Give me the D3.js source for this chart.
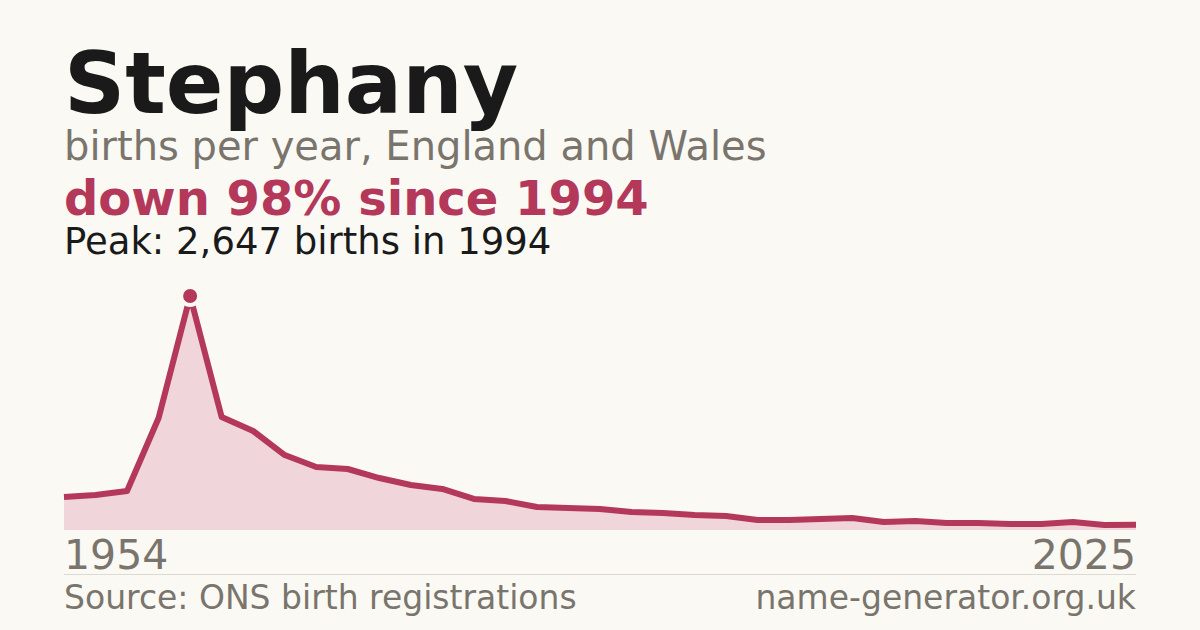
<!DOCTYPE html>
<html>
<head>
<meta charset="utf-8">
<script src="https://cdn.jsdelivr.net/npm/d3@7"></script>
<style>
  html, body { margin: 0; padding: 0; background: #faf9f4; }
  svg { display: block; font-family: "DejaVu Sans", sans-serif; }
</style>
</head>
<body>
<svg id="chart" width="1200" height="630"></svg>
<script>
// births per year for the name
var years = [1990, 1991, 1992, 1993, 1994, 1995, 1996, 1997, 1998, 1999,
    2000, 2001, 2002, 2003, 2004, 2005, 2006, 2007, 2008, 2009,
    2010, 2011, 2012, 2013, 2014, 2015, 2016, 2017, 2018, 2019,
    2020, 2021, 2022, 2023, 2024];
var births = [373, 396, 441, 1267, 2647, 1278, 1120, 848, 713, 690,
    588, 509, 464, 351, 328, 260, 249, 238, 204, 192,
    170, 158, 113, 113, 124, 136, 90, 102, 79, 79,
    68, 68, 90, 57, 60];
var endLabels = ["1954", "2025"];

var peakYear = 1994, peakValue = 2647;

var titleText = "Stephany";
var subtitleText = "births per year, England and Wales";
var changeText = "down 98% since 1994";
var peakText = "Peak: 2,647 births in 1994";
var sourceText = "Source: ONS birth registrations";
var siteText = "name-generator.org.uk";

var lineColor = "#b3385a",
    areaColor = "#f0d5da",
    bg = "#faf9f4",
    grey = "#7a756c";

var svg = d3.select("#chart");
svg.append("rect").attr("width", 1200).attr("height", 630).attr("fill", bg);

var margin = { left: 64, right: 64 },
    plotTop = 296, plotBottom = 530;

var data = years.map(function(y, i) { return { year: y, value: births[i] }; });

var x = d3.scaleLinear()
    .domain(d3.extent(years))
    .range([margin.left, 1200 - margin.right]);
var y = d3.scaleLinear()
    .domain([0, d3.max(births)])
    .range([plotBottom, plotTop]);

// header texts
svg.append("text").attr("x", 64).attr("y", 113)
    .attr("font-size", 85).attr("font-weight", "bold").attr("fill", "#1a1a1a")
    .text(titleText);
svg.append("text").attr("x", 64).attr("y", 160)
    .attr("font-size", 40).attr("fill", grey)
    .text(subtitleText);
svg.append("text").attr("x", 64).attr("y", 215)
    .attr("font-size", 48).attr("font-weight", "bold").attr("fill", lineColor)
    .text(changeText);
svg.append("text").attr("x", 64).attr("y", 254)
    .attr("font-size", 37).attr("fill", "#1a1a1a")
    .text(peakText);

var area = d3.area()
    .x(function(d) { return x(d.year); })
    .y0(y(0))
    .y1(function(d) { return y(d.value); });

var line = d3.line()
    .x(function(d) { return x(d.year); })
    .y(function(d) { return y(d.value); });

svg.append("path").datum(data)
    .attr("d", area)
    .attr("fill", areaColor);

svg.append("path").datum(data)
    .attr("d", line)
    .attr("fill", "none")
    .attr("stroke", lineColor)
    .attr("stroke-width", 6)
    .attr("stroke-linejoin", "round");

svg.append("circle")
    .attr("cx", x(peakYear))
    .attr("cy", y(peakValue))
    .attr("r", 9)
    .attr("fill", lineColor)
    .attr("stroke", bg)
    .attr("stroke-width", 4);

// end labels
svg.selectAll(".endlabel")
    .data(endLabels)
    .enter()
    .append("text")
    .attr("class", "endlabel")
    .attr("x", function(d, i) { return x.range()[i]; })
    .attr("y", 569)
    .attr("text-anchor", function(d, i) { return i == 0 ? "start" : "end"; })
    .attr("font-size", 41)
    .attr("fill", grey)
    .text(function(d) { return d; });

svg.append("line")
    .attr("x1", x.range()[0]).attr("x2", x.range()[1])
    .attr("y1", 574.5).attr("y2", 574.5)
    .attr("stroke", "#dddad3").attr("stroke-width", 1);

svg.append("text").attr("x", 64).attr("y", 609)
    .attr("font-size", 33).attr("fill", grey)
    .text(sourceText);
svg.append("text").attr("x", 1136).attr("y", 609)
    .attr("text-anchor", "end")
    .attr("font-size", 33).attr("fill", grey)
    .text(siteText);
</script>
</body>
</html>
